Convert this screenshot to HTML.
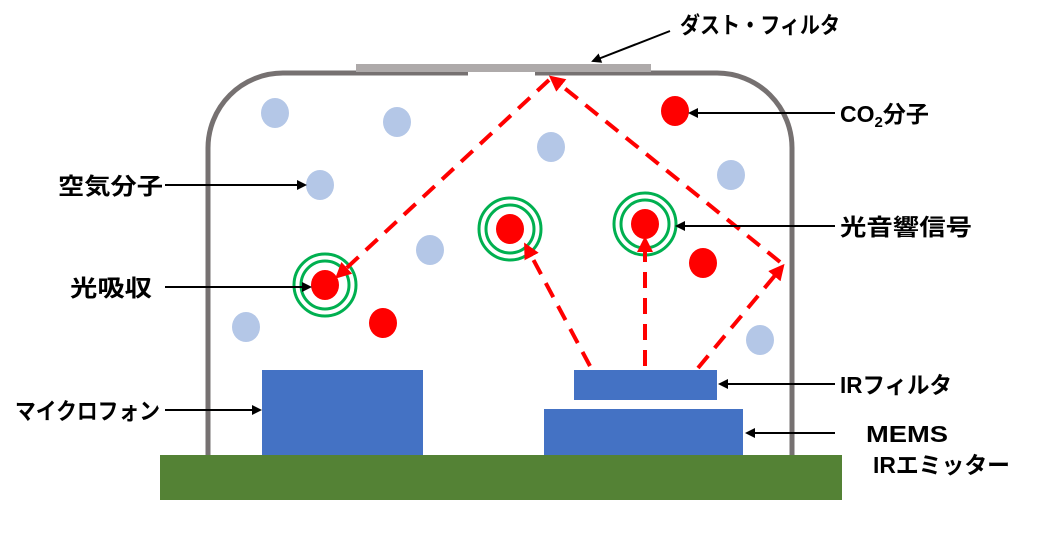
<!DOCTYPE html>
<html><head><meta charset="utf-8"><style>
body{margin:0;background:#fff;width:1059px;height:528px;overflow:hidden}
text{font-family:"Liberation Sans","Noto Sans CJK JP",sans-serif;font-weight:bold;font-size:23px;fill:#000}
</style></head><body>
<svg width="1059" height="528" viewBox="0 0 1059 528" xmlns="http://www.w3.org/2000/svg">
<defs>
<marker id="ab" markerWidth="10" markerHeight="10" refX="8" refY="5" orient="auto" markerUnits="userSpaceOnUse"><path d="M0,0 L10,5 L0,10 Z" fill="#000"/></marker>
<marker id="ar" markerWidth="16" markerHeight="16" refX="12" refY="8" orient="auto" markerUnits="userSpaceOnUse"><path d="M0,0 L16,8 L0,16 Z" fill="#f00"/></marker>
</defs>
<path d="M208,455 L208,148 A75,75 0 0 1 283,73 L468,73 M535,73 L717,73 A75,75 0 0 1 792,148 L792,455" fill="none" stroke="#767171" stroke-width="5"/>
<rect x="356" y="64" width="295" height="8" fill="#AEAAAA"/>
<rect x="160" y="455" width="682" height="45" fill="#548235"/>
<rect x="262" y="370" width="161" height="85" fill="#4472C4"/>
<rect x="574" y="370" width="143" height="30" fill="#4472C4"/>
<rect x="544" y="409" width="199" height="46" fill="#4472C4"/>
<g fill="#B4C7E7">
<ellipse cx="275" cy="113" rx="14" ry="15"/><ellipse cx="397" cy="122" rx="14" ry="15"/>
<ellipse cx="551" cy="147" rx="14" ry="15"/><ellipse cx="320" cy="185" rx="14" ry="15"/>
<ellipse cx="430" cy="250" rx="14" ry="15"/><ellipse cx="731" cy="175" rx="14" ry="15"/>
<ellipse cx="246" cy="327" rx="14" ry="15"/><ellipse cx="760" cy="340" rx="14" ry="15"/>
</g>
<g fill="#f00">
<ellipse cx="675" cy="111" rx="14" ry="15"/><ellipse cx="703" cy="263" rx="14" ry="15"/>
<ellipse cx="383" cy="323" rx="14" ry="15"/>
<ellipse cx="325" cy="285" rx="14" ry="15"/><ellipse cx="510" cy="229" rx="14" ry="15"/>
<ellipse cx="645" cy="224" rx="14" ry="15"/>
</g>
<g fill="none" stroke="#00B050" stroke-width="3">
<circle cx="325" cy="285" r="31"/><circle cx="325" cy="285" r="24"/>
<circle cx="510" cy="229" r="31"/><circle cx="510" cy="229" r="24"/>
<circle cx="645" cy="224" r="31"/><circle cx="645" cy="224" r="24"/>
</g>
<g stroke="#f00" stroke-width="4" stroke-dasharray="16,10" fill="none">
<line x1="549" y1="80" x2="338" y2="276" marker-end="url(#ar)"/>
<line x1="780" y1="262" x2="552" y2="78" marker-end="url(#ar)"/>
<line x1="698" y1="368" x2="782" y2="267" marker-end="url(#ar)"/>
<line x1="590" y1="366" x2="526" y2="246" marker-end="url(#ar)"/>
<line x1="645" y1="366" x2="645" y2="240" marker-end="url(#ar)"/>
</g>
<g stroke="#000" stroke-width="2" fill="none">
<line x1="670" y1="31" x2="593" y2="61" marker-end="url(#ab)"/>
<line x1="835" y1="113" x2="690" y2="113" marker-end="url(#ab)"/>
<line x1="165" y1="185" x2="305" y2="185" marker-end="url(#ab)"/>
<line x1="165" y1="287" x2="310" y2="287" marker-end="url(#ab)"/>
<line x1="835" y1="226" x2="677" y2="226" marker-end="url(#ab)"/>
<line x1="165" y1="410" x2="260" y2="410" marker-end="url(#ab)"/>
<line x1="835" y1="384" x2="720" y2="384" marker-end="url(#ab)"/>
<line x1="835" y1="433" x2="747" y2="433" marker-end="url(#ab)"/>
</g>
<text x="680" y="33" textLength="160" lengthAdjust="spacingAndGlyphs">ダスト・フィルタ</text>
<text x="840" y="122">CO<tspan font-size="15" dy="5">2</tspan><tspan dy="-5">分子</tspan></text>
<text x="58" y="194" textLength="105" lengthAdjust="spacingAndGlyphs">空気分子</text>
<text x="70" y="296" textLength="82" lengthAdjust="spacingAndGlyphs">光吸収</text>
<text x="840" y="235" textLength="132" lengthAdjust="spacingAndGlyphs">光音響信号</text>
<text x="15" y="419" textLength="145" lengthAdjust="spacingAndGlyphs">マイクロフォン</text>
<text x="840" y="393" textLength="112" lengthAdjust="spacingAndGlyphs">IRフィルタ</text>
<text x="866" y="442" textLength="82" lengthAdjust="spacingAndGlyphs">MEMS</text>
<text x="873" y="473" textLength="137" lengthAdjust="spacingAndGlyphs">IRエミッター</text>
</svg>
</body></html>
